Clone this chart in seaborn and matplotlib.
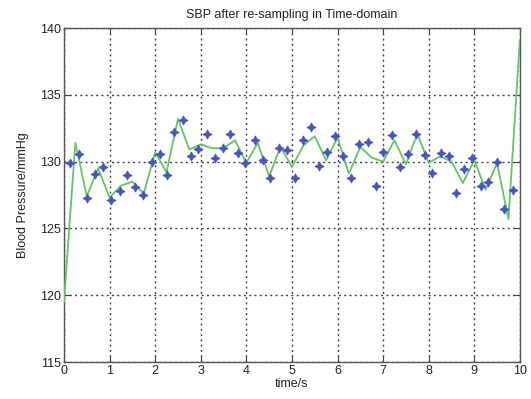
import numpy as np
import pandas as pd
import matplotlib
matplotlib.use("Agg")
import matplotlib.pyplot as plt
import seaborn as sns

# Raw beat-to-beat systolic samples (time in s, SBP in mmHg)
beat_time = [0.13, 0.33, 0.50, 0.68, 0.86, 1.03, 1.22, 1.38, 1.56, 1.74,
             1.93, 2.11, 2.27, 2.42, 2.60, 2.78, 2.95, 3.13, 3.31, 3.49,
             3.65, 3.81, 3.98, 4.18, 4.36, 4.53, 4.71, 4.89, 5.06, 5.24,
             5.42, 5.60, 5.76, 5.95, 6.13, 6.30, 6.48, 6.66, 6.84, 7.00,
             7.20, 7.37, 7.54, 7.73, 7.91, 8.07, 8.26, 8.44, 8.60, 8.78,
             8.96, 9.14, 9.31, 9.50, 9.66, 9.84]
beat_sbp = [129.9, 130.6, 127.3, 129.1, 129.6, 127.1, 127.8, 129.0, 128.1, 127.5,
            130.0, 130.6, 129.0, 132.2, 133.15, 130.4, 130.95, 132.1, 130.3, 131.0,
            132.1, 130.65, 129.9, 131.6, 130.15, 128.75, 131.0, 130.9, 128.8, 131.6,
            132.6, 129.65, 130.7, 131.95, 130.45, 128.75, 131.3, 131.45, 128.2, 130.75,
            132.0, 129.6, 130.55, 132.1, 130.5, 129.15, 130.65, 130.45, 127.65, 129.45,
            130.3, 128.15, 128.5, 129.95, 126.45, 127.85]

# Series re-sampled on a uniform 4 Hz grid
resample_time = [0.00, 0.25, 0.50, 0.75, 1.00, 1.25, 1.50, 1.75, 2.00, 2.25,
                 2.50, 2.75, 3.00, 3.25, 3.50, 3.75, 4.00, 4.25, 4.50, 4.75,
                 5.00, 5.25, 5.50, 5.75, 6.00, 6.25, 6.50, 6.75, 7.00, 7.25,
                 7.50, 7.75, 8.00, 8.25, 8.50, 8.75, 9.00, 9.25, 9.50, 9.75,
                 10.00]
resample_sbp = [119.5, 131.4, 127.4, 129.5, 127.3, 128.2, 128.5, 127.6, 130.7, 129.2,
                133.2, 130.9, 131.3, 131.0, 131.0, 131.6, 129.9, 131.4, 128.9, 131.1,
                129.6, 131.2, 131.9, 130.1, 131.8, 129.1, 131.1, 130.3, 130.0, 131.6,
                129.8, 132.1, 129.9, 130.4, 130.0, 128.4, 130.1, 127.9, 129.9, 125.7,
                139.1]

x_ticks = list(range(0, 11))
y_ticks = [115, 120, 125, 130, 135, 140]

beats = pd.DataFrame({"t": beat_time, "sbp": beat_sbp})
resampled = pd.DataFrame({"t": resample_time, "sbp": resample_sbp})

sns.set_style("white")
plt.rcParams["font.family"] = ["Liberation Sans", "DejaVu Sans"]

fig = plt.figure(figsize=(5.31, 3.99), dpi=100)
ax = fig.add_axes([0.1205, 0.0927, 0.8585, 0.8371])

sns.lineplot(data=resampled, x="t", y="sbp", ax=ax, color="#66c466",
             linewidth=1.3, zorder=3)
sns.scatterplot(data=beats, x="t", y="sbp", ax=ax, marker=(4, 1, 0),
                s=42, color="#4656bd", edgecolor="#4656bd", linewidth=0.6,
                zorder=4)

ax.set_xlim(0, 10)
ax.set_ylim(115, 140)
ax.set_xticks(x_ticks)
ax.set_yticks(y_ticks)
ax.set_xticklabels([str(v) for v in x_ticks])
ax.set_yticklabels([str(v) for v in y_ticks])

ax.grid(True, color="#3a3a3a", linestyle=(0, (1.4, 2.4)), linewidth=1.0)
ax.set_axisbelow(True)
for side in ax.spines.values():
    side.set_color("#555555")
    side.set_linewidth(1.0)

ax.tick_params(axis="both", direction="in", length=4, width=0.8,
               color="#444444", labelsize=9, pad=2, labelcolor="#222222",
               top=True, right=True, bottom=True, left=True)

ax.set_title("SBP after re-sampling in Time-domain", fontsize=9, pad=7,
             color="#222222")
ax.set_xlabel("time/s", fontsize=9, labelpad=1, color="#222222")
ax.set_ylabel("Blood Pressure/mmHg", fontsize=9, labelpad=8, color="#222222")

fig.savefig("out.png", dpi=100)
